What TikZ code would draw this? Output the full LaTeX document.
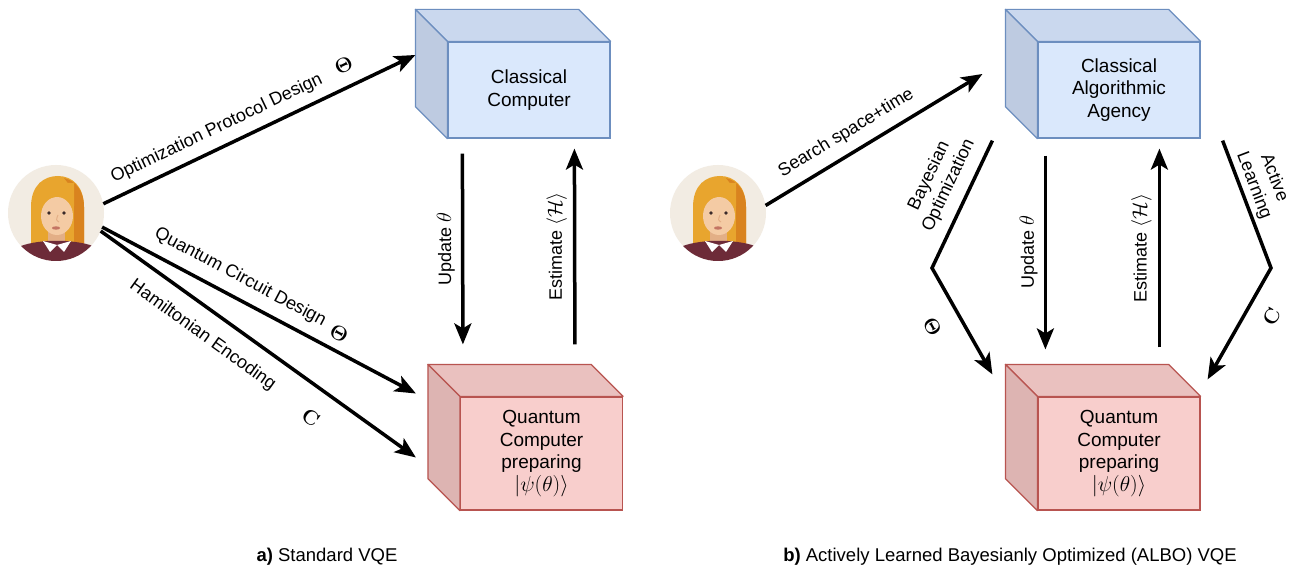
\RequirePackage{fix-cm}
\documentclass[tikz,border=0pt]{standalone}
\usepackage{amsmath}
\usepackage[no-math]{fontspec}
\setmainfont{Liberation Sans}
\usetikzlibrary{arrows.meta, calc, positioning}
% slightly larger formulas next to the sans text
\DeclareMathSizes{18}{20.5}{15}{12}
\DeclareMathSizes{19}{21.5}{16}{12}

\definecolor{cfront}{HTML}{DAE8FC}
\definecolor{ctop}{HTML}{CAD8EE}
\definecolor{cside}{HTML}{BECBE1}
\definecolor{cline}{HTML}{6C8EBF}
\definecolor{qfront}{HTML}{F8CECC}
\definecolor{qtop}{HTML}{EAC1BF}
\definecolor{qside}{HTML}{DDB4B2}
\definecolor{qline}{HTML}{B85450}
\definecolor{avbg}{HTML}{F2ECE3}
\definecolor{avhair}{HTML}{E8A52E}
\definecolor{avhairdk}{HTML}{D9831F}
\definecolor{avskin}{HTML}{F4CBA4}
\definecolor{avskindk}{HTML}{E3AF86}
\definecolor{avshirt}{HTML}{6D2B38}
\definecolor{avmouth}{HTML}{C47563}
\definecolor{aveye}{HTML}{3A2A2A}

\tikzset{
  box/.style={draw, line width=1.2pt, minimum width=162pt, minimum height=96pt,
    align=center, font=\fontsize{19}{22.5}\selectfont},
  classical/.style={box, draw=cline, fill=cfront},
  quantum/.style={box, draw=qline, fill=qfront, minimum height=113pt},
  flow/.style={line width=3.5pt, -{Stealth[length=21pt, width=17pt, inset=5pt]}},
  lbl/.style={font=\fontsize{18}{21.6}\selectfont, inner sep=2pt, align=center},
  sym/.style={lbl},
  vlbl/.style={lbl, rotate=90, anchor=south, inner sep=6pt},
  subcap/.style={font=\fontsize{18.5}{22}\selectfont}
}

% top and left face of a box drawn as a cube
\newcommand{\cubefaces}[4]{%
  \filldraw[draw=#4, fill=#2, line width=1.2pt, line join=round]
    (#1.north west) -- ++(-32,-32) -- ($(#1.north east)+(-32,-32)$) -- (#1.north east) -- cycle;
  \filldraw[draw=#4, fill=#3, line width=1.2pt, line join=round]
    (#1.north west) -- ++(-32,-32) -- ($(#1.south west)+(-32,-32)$) -- (#1.south west) -- cycle;
}

% round user icon
\newcommand{\persona}[2]{%
  \node[circle, fill=avbg, minimum size=96pt, inner sep=0pt] (#1) at (#2) {};
  \begin{scope}[shift={(#2)}]
    \clip (0,0) circle (48);
    \fill[avhair] (-25,34) -- (-25,-6) .. controls (-25,-28) and (-12,-37) .. (2,-37)
      .. controls (16,-37) and (28,-27) .. (28,-6) -- (28,34) -- cycle;
    \fill[avhairdk] (8,-35) .. controls (20,-32) and (28,-22) .. (28,-6) -- (28,34) -- (18,34)
      -- (18,-14) .. controls (17,-24) and (12,-30) .. (8,-35) -- cycle;
    \fill[avskindk] (-8,12) rectangle (9,32);
    \fill[avshirt] (-50,50) -- (-44,38) .. controls (-36,31) and (-20,29) .. (-9,28) -- (10,28)
      .. controls (22,29) and (38,31) .. (45,38) -- (50,50) -- cycle;
    \fill[white] (-13,28) -- (1,32) -- (-6,39) -- cycle;
    \fill[white] (15,28) -- (1,32) -- (8,39) -- cycle;
    \fill[avskin] (1,3) ellipse (16 and 19);
    \fill[avhair] (-17,-3) .. controls (-12,-15) and (0,-19) .. (12,-15)
      .. controls (15,-14) and (18,-11) .. (18,-7) -- (18,-30) -- (-17,-30) -- cycle;
    \fill[aveye] (-7,0) circle (1.8);
    \fill[aveye] (8,0) circle (1.8);
    \draw[avskindk, line width=1pt] (2,2) .. controls (0,7) .. (3,9);
    \fill[avmouth] (0,15) ellipse (4 and 1.7);
  \end{scope}
}

\begin{document}
\begin{tikzpicture}[x=1pt, y=-1pt]
 \useasboundingbox[fill=white] (0,0) rectangle (1303,569);

 % a) standard VQE
 \persona{userA}{56,213}
 \node[classical] (cc) at (529,90) {Classical\\Computer};
 \cubefaces{cc}{ctop}{cside}{cline}
 \node[quantum] (qc) at (541.5,453.5) {Quantum\\Computer\\preparing\\$|\psi(\theta)\rangle$};
 \cubefaces{qc}{qtop}{qside}{qline}

 \draw[flow] (userA.11) -- node[lbl, sloped, above=7pt, pos=0.39] {Optimization Protocol Design}
   node[sym, sloped, above=11pt, pos=0.80] {$\mathbf{\Theta}$} ([shift={(-32,-35)}]cc.west);
 \draw[flow] (userA.-17) -- node[lbl, sloped, above=8pt, pos=0.41] {Quantum Circuit Design}
   node[sym, sloped, above=6pt, pos=0.73] {$\mathbf{\Theta}$} ([shift={(-44,-60)}]qc.west);
 \draw[flow] (userA.-22) -- node[lbl, sloped, below=13pt, pos=0.37] {Hamiltonian Encoding}
   node[sym, sloped, below=18pt, pos=0.72] {$\mathbf{C}$} ([shift={(-44,4)}]qc.west);
 \draw[flow] ([shift={(15,15)}]cc.south west) -- node[vlbl, midway] {Update $\theta$}
   ([shift={(3,-52)}]qc.north west);
 \draw[flow] ([shift={(115,-52)}]qc.north west) -- node[vlbl, midway] {Estimate $\langle\mathcal{H}\rangle$}
   ([shift={(127,10)}]cc.south west);

 \node[subcap] (capA) at (327,557) {\textbf{a)} Standard VQE};

 % b) ALBO VQE
 \persona{userB}{718,213}
 \node[classical] (ca) at (1119,90) {Classical\\Algorithmic\\Agency};
 \cubefaces{ca}{ctop}{cside}{cline}
 \node[quantum] (qb) at (1119,453.5) {Quantum\\Computer\\preparing\\$|\psi(\theta)\rangle$};
 \cubefaces{qb}{qtop}{qside}{qline}
 \coordinate (boBend) at (932,268);
 \coordinate (alBend) at (1271,268);

 \draw[flow] (userB.9) -- node[lbl, sloped, above=8pt, pos=0.42] {Search space+time}
   ([shift={(-55,-16)}]ca.west);
 \draw[flow] ([shift={(-45,2)}]ca.south west) -- node[lbl, sloped, above=8pt, pos=0.42] {Bayesian\\Optimization}
   (boBend) -- node[sym, sloped, below=18pt, pos=0.42] {$\mathbf{\Theta}$}
   ([shift={(-45,-22)}]qb.north west);
 \draw[flow] ([shift={(8,17)}]ca.south west) -- node[vlbl, midway] {Update $\theta$}
   ([shift={(8,-47)}]qb.north west);
 \draw[flow] ([shift={(122,-49)}]qb.north west) -- node[vlbl, midway] {Estimate $\langle\mathcal{H}\rangle$}
   ([shift={(122,10)}]ca.south west);
 \draw[flow] ([shift={(22,2)}]ca.south east) -- node[lbl, sloped, above=1pt, pos=0.39] {Active\\Learning}
   (alBend) -- node[sym, sloped, below=14pt, pos=0.33] {$\mathbf{C}$}
   ([shift={(7,-17)}]qb.north east);

 \node[subcap] (capB) at (1010,557) {\textbf{b)} Actively Learned Bayesianly Optimized (ALBO) VQE};
\end{tikzpicture}
\end{document}
